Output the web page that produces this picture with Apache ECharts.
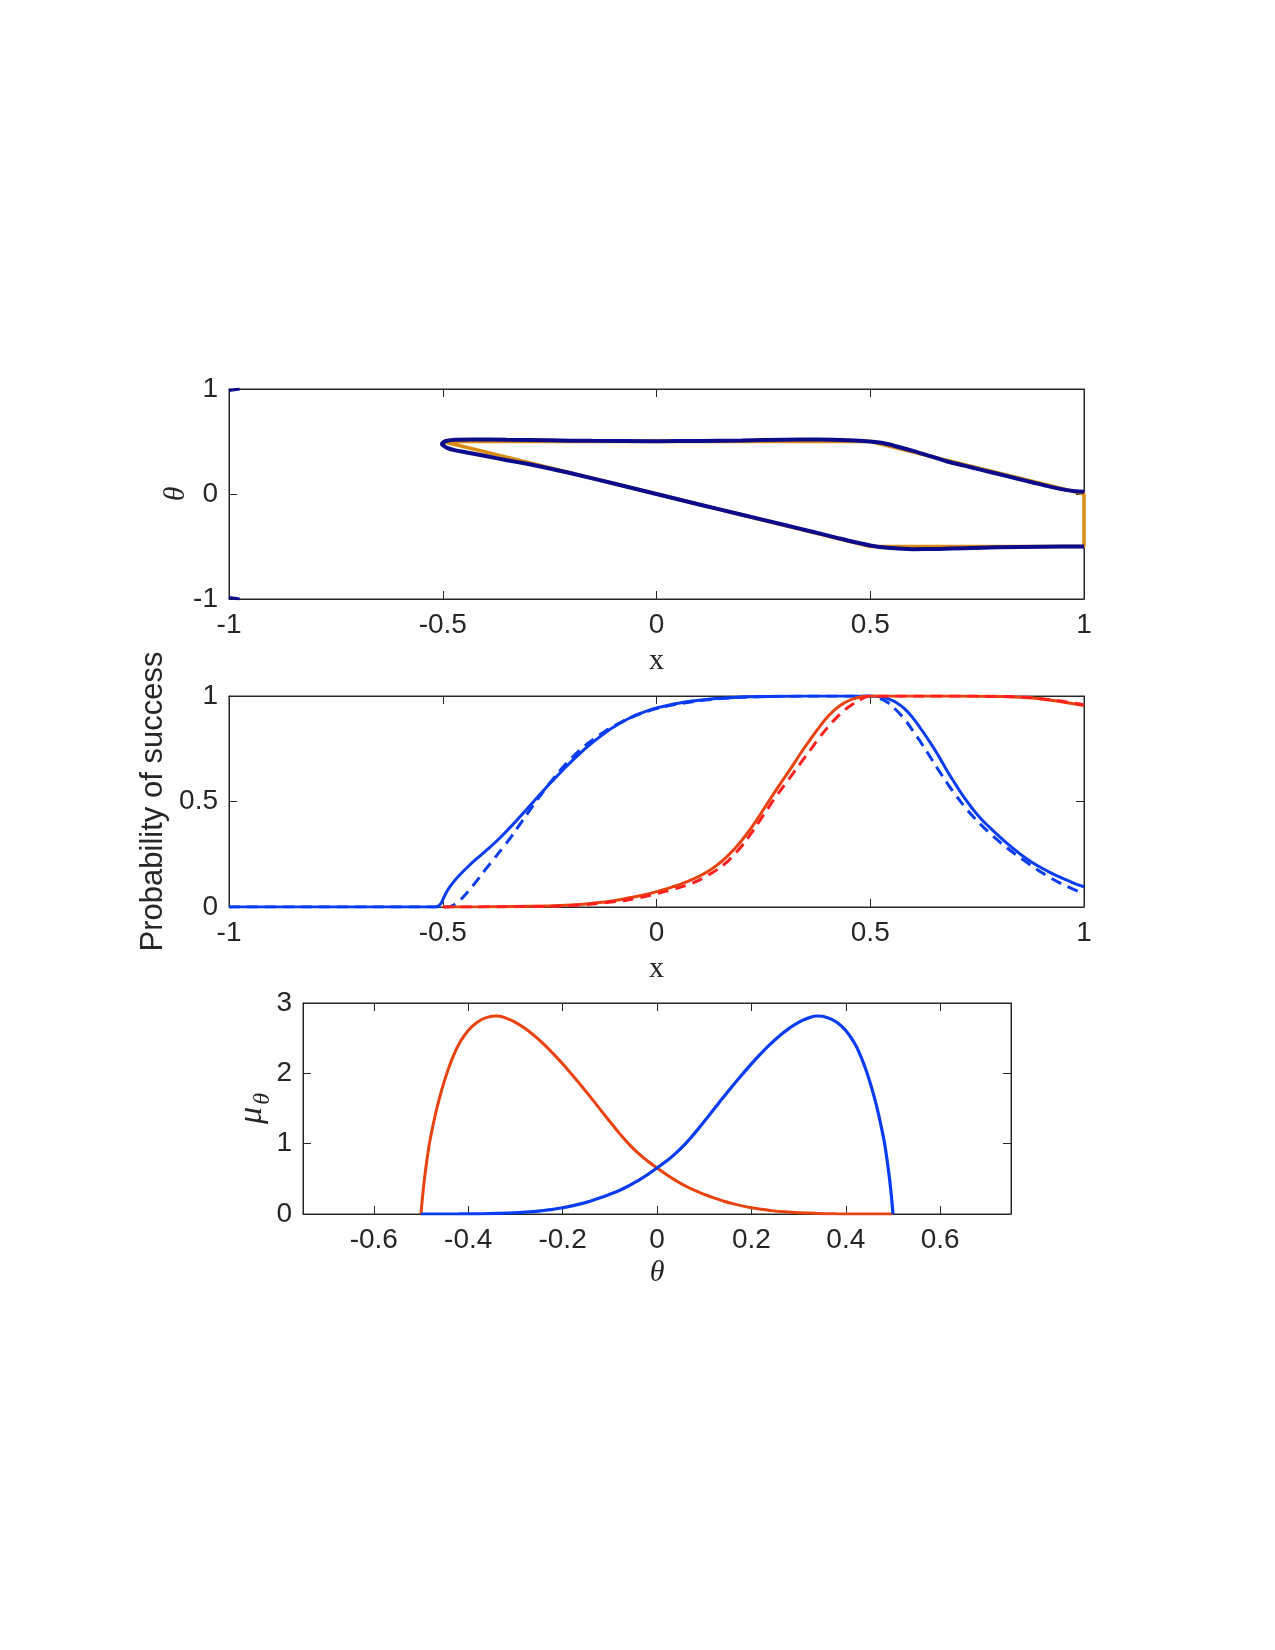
<!DOCTYPE html>
<html>
<head>
<meta charset="utf-8">
<title>theta / probability / mu</title>
<script src="https://cdn.jsdelivr.net/npm/echarts@6/dist/echarts.min.js"></script>
<style>
html, body { margin: 0; padding: 0; background: #fff; }
#chart { width: 1275px; height: 1650px; }
</style>
</head>
<body>
<div id="chart"></div>
<script>
// ---- panel 1 : theta vs x ----
var orangeX = [-0.5, 0.5, 1, 1, 0.5, -0.5];
var orangeT = [0.5, 0.5, 0, -0.5, -0.5, 0.5];

// blue loop, upper branch from the right end to the nose, then lower branch back out
var loopX = [1, 0.98, 0.96, 0.92, 0.88, 0.84, 0.8, 0.76, 0.72, 0.68, 0.64, 0.6, 0.56, 0.53, 0.5, 0.45, 0.38, 0.3, 0.2, 0.1, 0,
  -0.15, -0.25, -0.35, -0.43, -0.47, -0.49, -0.5, -0.502, -0.498, -0.49, -0.47, -0.45, -0.4, -0.35, -0.3, -0.25, -0.2, -0.1,
  0, 0.1, 0.2, 0.3, 0.36, 0.42, 0.46, 0.5, 0.54, 0.6, 0.66, 0.72, 0.8, 0.9, 1];
var loopT = [0.022, 0.027, 0.037, 0.07, 0.11, 0.15, 0.19, 0.23, 0.27, 0.31, 0.36, 0.41, 0.455, 0.485, 0.5, 0.513, 0.52, 0.517, 0.51, 0.505, 0.503,
  0.506, 0.511, 0.516, 0.52, 0.516, 0.507, 0.49, 0.475, 0.46, 0.44, 0.415, 0.4, 0.362, 0.322, 0.285, 0.243, 0.198, 0.1,
  0, -0.1, -0.198, -0.295, -0.355, -0.415, -0.455, -0.49, -0.512, -0.525, -0.523, -0.516, -0.508, -0.502, -0.5];

var cornerX = [-1, -0.975];
var cornerTopT = [0.985, 1];
var cornerBotT = [-0.985, -1];

// ---- panel 2 : probability of success ----
var blueSolidX = [-1, -0.6, -0.52, -0.512, -0.505, -0.5, -0.495, -0.49, -0.48, -0.47, -0.46, -0.44, -0.42, -0.4, -0.38, -0.36, -0.34, -0.32, -0.3,
  -0.28, -0.26, -0.24, -0.22, -0.2, -0.18, -0.16, -0.14, -0.12, -0.1, -0.08, -0.06, -0.04, -0.02, 0, 0.02, 0.04, 0.06, 0.08, 0.1,
  0.14, 0.18, 0.22, 0.3, 0.4, 0.5, 0.52, 0.54, 0.56, 0.58, 0.6, 0.62, 0.64, 0.66, 0.68, 0.7, 0.72, 0.74, 0.76, 0.78, 0.8,
  0.82, 0.84, 0.86, 0.88, 0.9, 0.92, 0.94, 0.96, 0.98, 1];
var blueSolidP = [0, 0, 0, 0.003, 0.015, 0.035, 0.055, 0.075, 0.105, 0.13, 0.153, 0.193, 0.23, 0.265, 0.301, 0.34, 0.382, 0.426, 0.471,
  0.517, 0.562, 0.605, 0.647, 0.688, 0.726, 0.762, 0.795, 0.826, 0.853, 0.877, 0.898, 0.916, 0.931, 0.943, 0.953, 0.962, 0.969, 0.975, 0.98,
  0.988, 0.993, 0.996, 0.999, 1, 1, 0.997, 0.988, 0.97, 0.94, 0.895, 0.84, 0.78, 0.715, 0.645, 0.58, 0.518, 0.464, 0.416, 0.376, 0.338,
  0.302, 0.268, 0.237, 0.21, 0.186, 0.164, 0.145, 0.127, 0.11, 0.096];

var blueDashX = [-1, -0.49, -0.48, -0.47, -0.46, -0.45, -0.44, -0.42, -0.4, -0.38, -0.36, -0.34, -0.32, -0.3, -0.28, -0.26, -0.24, -0.22, -0.2,
  -0.18, -0.16, -0.14, -0.12, -0.1, -0.08, -0.06, -0.04, -0.02, 0, 0.04, 0.08, 0.12, 0.16, 0.2, 0.3, 0.4, 0.5,
  0.52, 0.54, 0.56, 0.58, 0.6, 0.62, 0.64, 0.66, 0.68, 0.7, 0.72, 0.74, 0.76, 0.78, 0.8, 0.82, 0.84, 0.86, 0.88, 0.9, 0.92, 0.94, 0.96, 0.98, 1];
var blueDashP = [0, 0, 0.004, 0.015, 0.032, 0.052, 0.075, 0.125, 0.178, 0.228, 0.28, 0.332, 0.39, 0.448, 0.505, 0.56, 0.612, 0.66, 0.703,
  0.742, 0.776, 0.806, 0.833, 0.857, 0.879, 0.898, 0.914, 0.928, 0.94, 0.958, 0.972, 0.982, 0.989, 0.994, 0.999, 1, 1,
  0.99, 0.97, 0.935, 0.89, 0.835, 0.775, 0.712, 0.648, 0.587, 0.53, 0.477, 0.43, 0.388, 0.349, 0.313, 0.28, 0.249, 0.22, 0.192, 0.165, 0.14, 0.118, 0.098, 0.08, 0.065];

var redSolidX = [-0.5, -0.4, -0.3, -0.2, -0.15, -0.1, -0.06, -0.02, 0, 0.02, 0.04, 0.06, 0.08, 0.1, 0.12, 0.14, 0.16, 0.18, 0.2,
  0.22, 0.24, 0.26, 0.28, 0.3, 0.32, 0.34, 0.36, 0.38, 0.4, 0.42, 0.44, 0.46, 0.48, 0.5, 0.6, 0.7, 0.8, 0.85, 0.9, 0.95, 1];
var redSolidP = [0, 0.001, 0.003, 0.01, 0.018, 0.03, 0.045, 0.062, 0.073, 0.084, 0.097, 0.111, 0.127, 0.146, 0.168, 0.196, 0.23, 0.27, 0.317,
  0.37, 0.43, 0.493, 0.555, 0.615, 0.675, 0.737, 0.795, 0.85, 0.9, 0.94, 0.968, 0.986, 0.996, 1, 1, 1, 0.998, 0.994, 0.986, 0.972, 0.955];

var redDashX = [-0.5, -0.3, -0.2, -0.1, -0.05, 0, 0.04, 0.08, 0.12, 0.16, 0.18, 0.2, 0.22, 0.24, 0.26, 0.28, 0.3, 0.32, 0.34,
  0.36, 0.38, 0.4, 0.42, 0.44, 0.46, 0.48, 0.5, 0.7, 0.8, 0.9, 1];
var redDashP = [0, 0.002, 0.007, 0.025, 0.04, 0.063, 0.085, 0.11, 0.15, 0.205, 0.245, 0.29, 0.345, 0.405, 0.465, 0.525, 0.58, 0.635, 0.69,
  0.745, 0.8, 0.85, 0.895, 0.933, 0.963, 0.986, 1, 1, 0.998, 0.987, 0.958];

// ---- panel 3 : mu_theta ----
var muRedTheta = [-0.5, -0.495, -0.49, -0.485, -0.48, -0.47, -0.46, -0.45, -0.44, -0.43, -0.42, -0.4, -0.38, -0.36, -0.34, -0.32, -0.3,
  -0.28, -0.26, -0.24, -0.22, -0.2, -0.18, -0.16, -0.14, -0.12, -0.1, -0.08, -0.06, -0.04, -0.02, 0,
  0.02, 0.04, 0.06, 0.08, 0.1, 0.12, 0.14, 0.16, 0.18, 0.2, 0.22, 0.24, 0.27, 0.3, 0.34, 0.38, 0.42, 0.5];
var muRed = [0, 0.36, 0.64, 0.88, 1.08, 1.4, 1.67, 1.9, 2.1, 2.27, 2.41, 2.61, 2.73, 2.795, 2.815, 2.785, 2.725,
  2.64, 2.535, 2.415, 2.28, 2.135, 1.98, 1.82, 1.655, 1.485, 1.315, 1.15, 0.998, 0.865, 0.753, 0.655,
  0.56, 0.475, 0.4, 0.335, 0.28, 0.23, 0.186, 0.148, 0.116, 0.089, 0.067, 0.05, 0.031, 0.018, 0.008, 0.003, 0.001, 0];
var muBlueTheta = [-0.5, -0.42, -0.38, -0.34, -0.3, -0.27, -0.24, -0.22, -0.2, -0.18, -0.16, -0.14, -0.12, -0.1, -0.08, -0.06, -0.04,
  -0.02, 0, 0.02, 0.04, 0.06, 0.08, 0.1, 0.12, 0.14, 0.16, 0.18, 0.2, 0.22, 0.24, 0.26, 0.28,
  0.3, 0.32, 0.34, 0.36, 0.38, 0.4, 0.42, 0.43, 0.44, 0.45, 0.46, 0.47, 0.48, 0.485, 0.49, 0.495, 0.5];
var muBlue = [0, 0.001, 0.003, 0.008, 0.018, 0.031, 0.05, 0.067, 0.089, 0.116, 0.148, 0.186, 0.23, 0.28, 0.335, 0.4, 0.475,
  0.56, 0.655, 0.753, 0.865, 0.998, 1.15, 1.315, 1.485, 1.655, 1.82, 1.98, 2.135, 2.28, 2.415, 2.535, 2.64,
  2.725, 2.785, 2.815, 2.795, 2.73, 2.61, 2.41, 2.27, 2.1, 1.9, 1.67, 1.4, 1.08, 0.88, 0.64, 0.36, 0];

var thetaTicks = [-0.6, -0.4, -0.2, 0, 0.2, 0.4, 0.6];

var AXIS_COLOR = '#262626';
var SANS = '"Liberation Sans", Arial, Helvetica, sans-serif';
var SERIF = '"Liberation Serif", "DejaVu Serif", serif';

function pairs(xs, ys) {
  return xs.map(function (x, i) { return [x, ys[i]]; });
}

// bottom axis with labels + a bare top axis for the box ticks
function xAxes(grid, min, max, interval, name, nameGap, nameStyle, ticks) {
  var bottom = {
    type: 'value', gridIndex: grid, position: 'bottom', min: min, max: max,
    name: name, nameLocation: 'middle', nameGap: nameGap, nameTextStyle: nameStyle, nameMoveOverlap: false,
    axisLine: { onZero: false, lineStyle: { color: AXIS_COLOR, width: 1 } },
    axisTick: { inside: true, length: 8, lineStyle: { color: AXIS_COLOR } },
    axisLabel: { margin: 12, fontFamily: SANS, fontSize: 28, color: AXIS_COLOR },
    splitLine: { show: false }
  };
  var top = {
    type: 'value', gridIndex: grid, position: 'top', min: min, max: max,
    axisLine: { onZero: false, lineStyle: { color: AXIS_COLOR, width: 1 } },
    axisTick: { inside: true, length: 8, lineStyle: { color: AXIS_COLOR } },
    axisLabel: { show: false },
    splitLine: { show: false }
  };
  if (ticks) {
    bottom.axisTick.customValues = ticks;
    bottom.axisLabel.customValues = ticks;
    top.axisTick.customValues = ticks;
  } else {
    bottom.interval = interval;
    top.interval = interval;
  }
  return [bottom, top];
}

function yAxes(grid, min, max, interval, name, nameGap, nameStyle) {
  return [{
    type: 'value', gridIndex: grid, position: 'left', min: min, max: max, interval: interval,
    name: name, nameLocation: 'middle', nameGap: nameGap, nameTextStyle: nameStyle, nameMoveOverlap: false,
    axisLine: { show: true, onZero: false, lineStyle: { color: AXIS_COLOR, width: 1 } },
    axisTick: { show: true, inside: true, length: 8, lineStyle: { color: AXIS_COLOR } },
    axisLabel: { margin: 11, fontFamily: SANS, fontSize: 28, color: AXIS_COLOR },
    splitLine: { show: false }
  }, {
    type: 'value', gridIndex: grid, position: 'right', min: min, max: max, interval: interval,
    axisLine: { show: true, onZero: false, lineStyle: { color: AXIS_COLOR, width: 1 } },
    axisTick: { show: true, inside: true, length: 8, lineStyle: { color: AXIS_COLOR } },
    axisLabel: { show: false },
    splitLine: { show: false }
  }];
}

function line(xi, data, color, width, dashed, extra) {
  var s = {
    type: 'line', xAxisIndex: xi, yAxisIndex: xi, data: data,
    symbol: 'none', showSymbol: false, smooth: 0.5,
    lineStyle: { color: color, width: width, type: dashed ? [11, 7] : 'solid' },
    emphasis: { disabled: true }
  };
  for (var k in extra) s[k] = extra[k];
  return s;
}

var serifName = { fontFamily: SERIF, fontSize: 30, color: AXIS_COLOR };
var serifItalic = { fontFamily: SERIF, fontSize: 30, fontStyle: 'italic', color: AXIS_COLOR };

var xs = [].concat(
  xAxes(0, -1, 1, 0.5, 'x', 47, serifName),
  xAxes(1, -1, 1, 0.5, 'x', 47, serifName),
  xAxes(2, -0.75, 0.75, null, 'θ', 44, serifItalic, thetaTicks)
);
var ys = [].concat(
  yAxes(0, -1, 1, 1, 'θ', 38, serifItalic),
  yAxes(1, 0, 1, 0.5, 'Probability of success', 60, { fontFamily: SANS, fontSize: 31, color: AXIS_COLOR }),
  yAxes(2, 0, 3, 1, '{mu|μ}{sub|θ}', 28, {
    color: AXIS_COLOR,
    rich: {
      mu: { fontFamily: SERIF, fontSize: 34, fontStyle: 'italic', color: AXIS_COLOR, lineHeight: 34, padding: [0, 2, 12, 0] },
      sub: { fontFamily: SERIF, fontSize: 24, fontStyle: 'italic', color: AXIS_COLOR, lineHeight: 24, verticalAlign: 'bottom' }
    }
  })
);

var ORANGE = '#d98b14';
var NAVY = '#0b0b8c';
var BLUE = '#0a3cf2';
var RED = '#e8420f';
var RED_DASH = '#ff1f1f';

var chart = echarts.init(document.getElementById('chart'), null, { renderer: 'canvas' });
var option = {
  animation: false,
  backgroundColor: '#fff',
  grid: [
    { left: 229, top: 389, width: 855, height: 210, show: true, borderColor: AXIS_COLOR, borderWidth: 1, backgroundColor: 'transparent' },
    { left: 229, top: 696, width: 855, height: 211, show: true, borderColor: AXIS_COLOR, borderWidth: 1, backgroundColor: 'transparent' },
    { left: 303, top: 1003, width: 708, height: 211, show: true, borderColor: AXIS_COLOR, borderWidth: 1, backgroundColor: 'transparent' }
  ],
  xAxis: xs,
  yAxis: ys,
  series: [
    // panel 1
    line(0, pairs(orangeX, orangeT), ORANGE, 3.5, false, { smooth: false, clip: false }),
    line(0, pairs(loopX, loopT), NAVY, 4, false, { smooth: 0.25, clip: false }),
    line(0, pairs(cornerX, cornerTopT), NAVY, 3, false, { smooth: false }),
    line(0, pairs(cornerX, cornerBotT), NAVY, 3, false, { smooth: false }),
    // panel 2
    line(2, pairs(blueSolidX, blueSolidP), BLUE, 3, false),
    line(2, pairs(blueDashX, blueDashP), BLUE, 3, true),
    line(2, pairs(redSolidX, redSolidP), RED, 3, false),
    line(2, pairs(redDashX, redDashP), RED_DASH, 3, true),
    // panel 3
    line(4, pairs(muRedTheta, muRed), RED, 3, false),
    line(4, pairs(muBlueTheta, muBlue), BLUE, 3.2, false)
  ]
};
chart.setOption(option);
</script>
</body>
</html>
